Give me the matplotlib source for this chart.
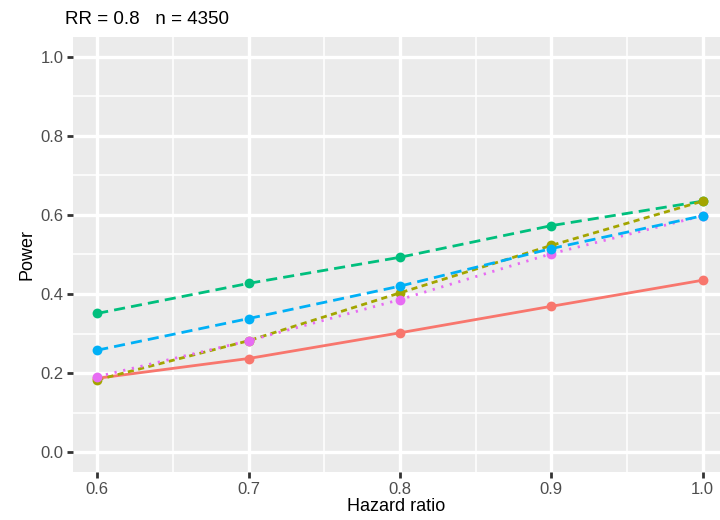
import numpy as np
import matplotlib.pyplot as plt
from matplotlib.ticker import MultipleLocator

plt.rcParams['font.family'] = ['Liberation Sans', 'DejaVu Sans']

hr = [0.6, 0.7, 0.8, 0.9, 1.0]
power_red = [0.187, 0.237, 0.302, 0.369, 0.435]
power_olive = [0.183, 0.282, 0.403, 0.523, 0.635]
power_green = [0.351, 0.427, 0.493, 0.573, 0.635]
power_pink = [0.191, 0.282, 0.386, 0.502, 0.598]
power_blue = [0.258, 0.338, 0.420, 0.515, 0.598]

# drawn in this order so overlapping points stack like the original
series = [
    (power_red, '#F8766D', '-'),
    (power_green, '#00BF7D', (0, (4, 2.2))),
    (power_olive, '#A3A500', (0, (2.2, 1.6))),
    (power_pink, '#E76BF3', (0, (0.8, 2.4))),
    (power_blue, '#00B0F6', (0, (4, 2.2))),
]

fig = plt.figure(figsize=(7.2, 5.2), dpi=100)
ax = fig.add_axes([73/720, 48/520, 1 - 73/720, (472 - 37)/520])
ax.set_facecolor('#EBEBEB')

for vals, col, ls in series:
    ax.plot(hr, vals, color=col, linestyle=ls, linewidth=2.0, zorder=3)
    ax.scatter(hr, vals, color=col, s=50, zorder=4, linewidths=0)

ax.set_xlim(0.584, 1.0114)
ax.set_ylim(-0.05, 1.05)
ax.xaxis.set_minor_locator(MultipleLocator(0.05))
ax.yaxis.set_minor_locator(MultipleLocator(0.1))
ax.set_xticks([0.6, 0.7, 0.8, 0.9, 1.0])
ax.set_xticklabels(['0.6', '0.7', '0.8', '0.9', '1.0'])
ax.set_yticks([0.0, 0.2, 0.4, 0.6, 0.8, 1.0])
ax.set_yticklabels(['0.0', '0.2', '0.4', '0.6', '0.8', '1.0'])
ax.grid(which='major', color='white', linewidth=2.4, zorder=0)
ax.grid(which='minor', color='white', linewidth=1.1, zorder=0)
ax.set_axisbelow(True)
for s in ax.spines.values():
    s.set_visible(False)
ax.tick_params(which='major', length=4, width=2, color='#333333',
               labelcolor='#4D4D4D', labelsize=12, pad=3)
ax.tick_params(which='minor', length=0)

ax.set_xlabel('Hazard ratio', fontsize=13, labelpad=1)
ax.set_ylabel('Power', fontsize=13, labelpad=3)
fig.text(65/720, 1 - 19/520, 'RR = 0.8   n = 4350', fontsize=13.5, va='center', ha='left')

fig.savefig('out.png')
